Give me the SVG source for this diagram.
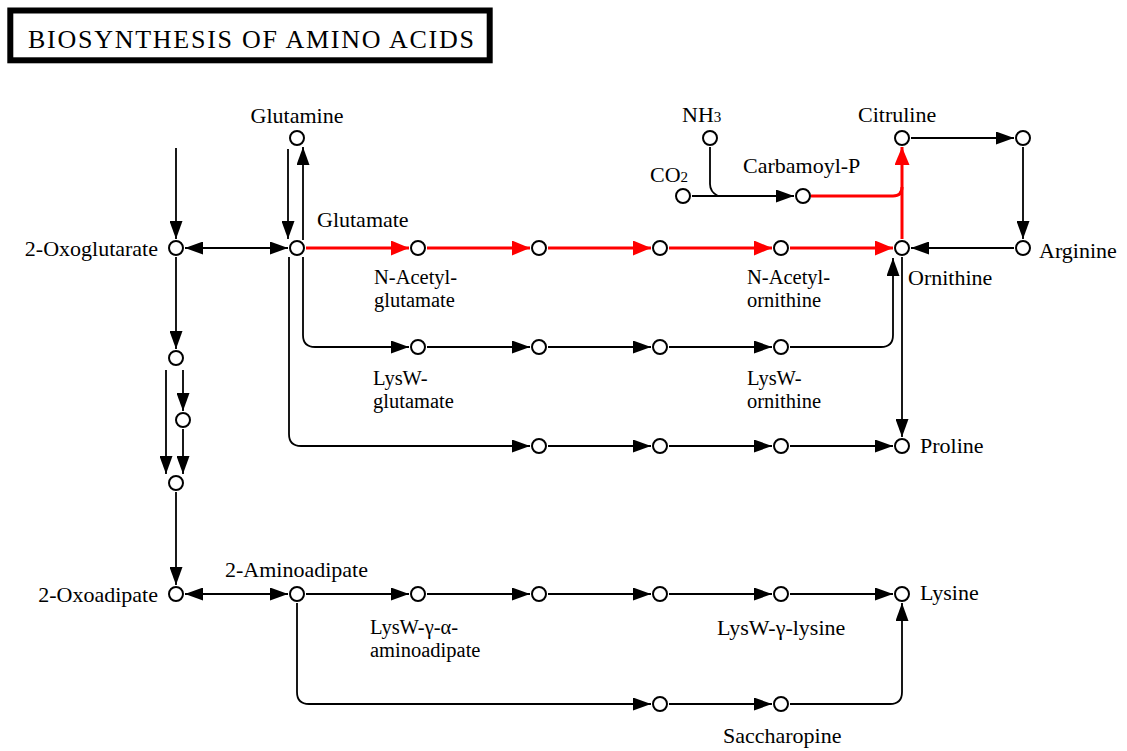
<svg xmlns="http://www.w3.org/2000/svg" width="1127" height="751" viewBox="0 0 1127 751">
<style>
  .n { fill: #fff; stroke: #000; stroke-width: 2; }
  .t { font-family: "Liberation Serif", "Times New Roman", serif; font-size: 22px; fill: #000; }
  .t2 { font-size: 20.5px; }
  .sub { font-size: 15px; }
  .e { fill: none; stroke: #000; stroke-width: 1.8; }
  .ea { fill: none; stroke: #000; stroke-width: 1.8; marker-end: url(#ab); }
  .ed { fill: none; stroke: #000; stroke-width: 1.8; marker-end: url(#ab); marker-start: url(#ab); }
  .r { fill: none; stroke: #f00; stroke-width: 3; }
  .ra { fill: none; stroke: #f00; stroke-width: 3; marker-end: url(#ar); }
</style>
<defs>
  <marker id="ab" markerUnits="userSpaceOnUse" markerWidth="18" markerHeight="13" refX="18" refY="6.5" orient="auto-start-reverse">
    <path d="M0,0 L18,6.5 L0,13 Z" fill="#000"/>
  </marker>
  <marker id="ar" markerUnits="userSpaceOnUse" markerWidth="18" markerHeight="15" refX="18" refY="7.5" orient="auto">
    <path d="M0,0 L18,7.5 L0,15 Z" fill="#f00"/>
  </marker>
</defs>
<rect width="1127" height="751" fill="#fff"/>

<g id="title">
  <rect x="10.3" y="10.5" width="479.4" height="49.8" fill="#fff" stroke="#000" stroke-width="6"/>
  <text x="28" y="48" class="t" style="font-size:26px" textLength="446" lengthAdjust="spacing">BIOSYNTHESIS OF AMINO ACIDS</text>
</g>

<g id="connectors">
  <path class="ea" d="M176,148 V239"/>
  <path class="ea" d="M176,257 V349"/>
  <path class="ea" d="M166,370 V474"/>
  <path class="ea" d="M183,370 V411"/>
  <path class="ea" d="M183,429 V474"/>
  <path class="ea" d="M176,492 V585"/>
  <path class="ed" d="M185,248 H288"/>
  <path class="ed" d="M185,594 H288"/>
  <path class="ea" d="M288,149 V239"/>
  <path class="ea" d="M303,240 V147"/>
  <path class="ra" d="M306,248 H409"/>
  <path class="ra" d="M427,248 H530"/>
  <path class="ra" d="M548,248 H651"/>
  <path class="ra" d="M669,248 H772"/>
  <path class="ra" d="M790,248 H893"/>
  <path class="ra" d="M902,239 V147"/>
  <path class="r" d="M811,196 H893 Q902,196 902,187"/>
  <path class="e" d="M710,147 V184 Q710,192 718,196"/>
  <path class="ea" d="M692,196 H794"/>
  <path class="ea" d="M911,138 H1014"/>
  <path class="ea" d="M1023,147 V239"/>
  <path class="ea" d="M1014,248 H911"/>
  <path class="ea" d="M303,257 V335 Q303,347 315,347 H409"/>
  <path class="ea" d="M289,257 V434 Q289,446 301,446 H530"/>
  <path class="ea" d="M427,347 H530"/>
  <path class="ea" d="M548,347 H651"/>
  <path class="ea" d="M669,347 H772"/>
  <path class="ea" d="M790,347 H881 Q893,347 893,335 V258"/>
  <path class="ea" d="M548,446 H651"/>
  <path class="ea" d="M669,446 H772"/>
  <path class="ea" d="M790,446 H893"/>
  <path class="ea" d="M902,257 V437"/>
  <path class="ea" d="M306,594 H409"/>
  <path class="ea" d="M427,594 H530"/>
  <path class="ea" d="M548,594 H651"/>
  <path class="ea" d="M669,594 H772"/>
  <path class="ea" d="M790,594 H893"/>
  <path class="ea" d="M297,603 V692 Q297,704 309,704 H651"/>
  <path class="ea" d="M669,704 H772"/>
  <path class="ea" d="M790,704 H890 Q902,704 902,692 V603"/>
</g>

<g id="n_2oxoglutarate"><circle class="n" cx="176" cy="248" r="7"/><text class="t" x="158" y="256" text-anchor="end">2-Oxoglutarate</text></g>
<g id="n_glutamate"><circle class="n" cx="297" cy="248" r="7"/><text class="t" x="317" y="227">Glutamate</text></g>
<g id="n_glutamine"><circle class="n" cx="297" cy="138" r="7"/><text class="t" x="297" y="123" text-anchor="middle">Glutamine</text></g>
<g id="n_nacetylglutamate"><circle class="n" cx="418" cy="248" r="7"/><text class="t t2" x="374" y="284">N-Acetyl-</text><text class="t t2" x="374" y="307">glutamate</text></g>
<g id="n_c1"><circle class="n" cx="539" cy="248" r="7"/></g>
<g id="n_c2"><circle class="n" cx="660" cy="248" r="7"/></g>
<g id="n_nacetylornithine"><circle class="n" cx="781" cy="248" r="7"/><text class="t t2" x="747" y="284">N-Acetyl-</text><text class="t t2" x="747" y="307">ornithine</text></g>
<g id="n_ornithine"><circle class="n" cx="902" cy="248" r="7"/><text class="t" x="908" y="285">Ornithine</text></g>
<g id="n_arginine"><circle class="n" cx="1023" cy="248" r="7"/><text class="t" x="1039" y="258">Arginine</text></g>
<g id="n_citruline"><circle class="n" cx="902" cy="138" r="7"/><text class="t" x="858" y="122">Citruline</text></g>
<g id="n_c3"><circle class="n" cx="1023" cy="138" r="7"/></g>
<g id="n_nh3"><circle class="n" cx="710" cy="138" r="7"/><text class="t" x="682" y="122">NH<tspan class="sub">3</tspan></text></g>
<g id="n_co2"><circle class="n" cx="683" cy="196" r="7"/><text class="t" x="650" y="182">CO<tspan class="sub">2</tspan></text></g>
<g id="n_carbamoylp"><circle class="n" cx="803" cy="196" r="7"/><text class="t" x="743" y="173">Carbamoyl-P</text></g>
<g id="n_lyswglutamate"><circle class="n" cx="418" cy="347" r="7"/><text class="t t2" x="373" y="385">LysW-</text><text class="t t2" x="373" y="408">glutamate</text></g>
<g id="n_c4"><circle class="n" cx="539" cy="347" r="7"/></g>
<g id="n_c5"><circle class="n" cx="660" cy="347" r="7"/></g>
<g id="n_lyswornithine"><circle class="n" cx="781" cy="347" r="7"/><text class="t t2" x="747" y="385">LysW-</text><text class="t t2" x="747" y="408">ornithine</text></g>
<g id="n_c6"><circle class="n" cx="539" cy="446" r="7"/></g>
<g id="n_c7"><circle class="n" cx="660" cy="446" r="7"/></g>
<g id="n_c8"><circle class="n" cx="781" cy="446" r="7"/></g>
<g id="n_proline"><circle class="n" cx="902" cy="446" r="7"/><text class="t" x="920" y="453">Proline</text></g>
<g id="n_c9"><circle class="n" cx="176" cy="358" r="7"/></g>
<g id="n_c10"><circle class="n" cx="183" cy="420" r="7"/></g>
<g id="n_c11"><circle class="n" cx="176" cy="483" r="7"/></g>
<g id="n_2oxoadipate"><circle class="n" cx="176" cy="594" r="7"/><text class="t" x="158" y="602" text-anchor="end">2-Oxoadipate</text></g>
<g id="n_2aminoadipate"><circle class="n" cx="297" cy="594" r="7"/><text class="t" x="225" y="577">2-Aminoadipate</text></g>
<g id="n_lyswgaaminoadipate"><circle class="n" cx="418" cy="594" r="7"/><text class="t t2" x="370" y="634">LysW-γ-α-</text><text class="t t2" x="370" y="657">aminoadipate</text></g>
<g id="n_c12"><circle class="n" cx="539" cy="594" r="7"/></g>
<g id="n_c13"><circle class="n" cx="660" cy="594" r="7"/></g>
<g id="n_lyswglysine"><circle class="n" cx="781" cy="594" r="7"/><text class="t" x="717" y="635">LysW-γ-lysine</text></g>
<g id="n_lysine"><circle class="n" cx="902" cy="594" r="7"/><text class="t" x="920" y="600">Lysine</text></g>
<g id="n_c14"><circle class="n" cx="660" cy="704" r="7"/></g>
<g id="n_saccharopine"><circle class="n" cx="781" cy="704" r="7"/><text class="t" x="723" y="743">Saccharopine</text></g>
</svg>
